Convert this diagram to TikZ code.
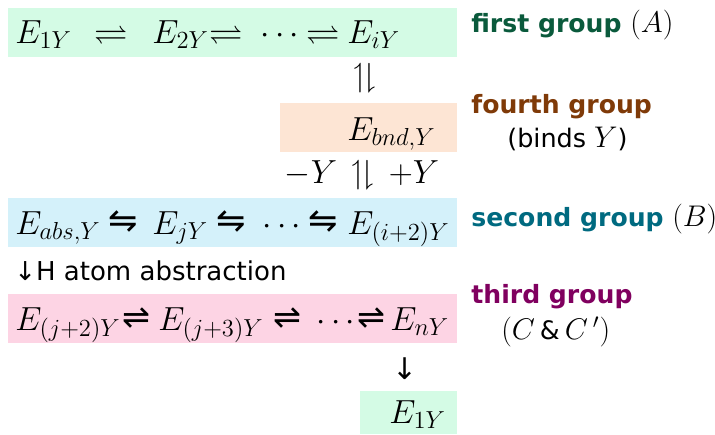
\RequirePackage{fix-cm}
\documentclass[tikz,border=0pt]{standalone}
\usepackage{amsmath,amssymb}
\usepackage{fontspec}
\setmainfont{DejaVu Sans}
\usetikzlibrary{positioning}
\DeclareMathSizes{19}{19}{14}{11}

\definecolor{grpAfill}{HTML}{D4FBE5}
\definecolor{grpBfill}{HTML}{D4F1FA}
\definecolor{grpCfill}{HTML}{FDD4E4}
\definecolor{grpDfill}{HTML}{FDE5D4}
\definecolor{grpAtext}{HTML}{0A5A3C}
\definecolor{grpBtext}{HTML}{006A80}
\definecolor{grpCtext}{HTML}{80005F}
\definecolor{grpDtext}{HTML}{7F3A08}

\begin{document}
\begin{tikzpicture}[
  x=0.02cm, y=-0.02cm,
  every node/.style={inner sep=0pt, font=\fontsize{19}{22}\selectfont},
  band/.style={fill=#1, anchor=north west, minimum height=0.97cm},
  sp/.style={anchor=base west},
  harp/.style={anchor=base west, font=\fontsize{#1}{22}\selectfont},
  grp/.style={anchor=west, text=#1, font=\fontsize{14.3}{17}\selectfont\bfseries},
  note/.style={anchor=west, font=\fontsize{14.5}{17}\selectfont},
]
\useasboundingbox (0,0) rectangle (715,434);

%% --- coloured bands ---
\node[band=grpAfill, minimum width=8.98cm] (first)  at (8,8)   {};
\node[band=grpDfill, minimum width=3.54cm] (fourth) at (280,103) {};
\node[band=grpBfill, minimum width=8.98cm] (second) at (8,198) {};
\node[band=grpCfill, minimum width=8.98cm] (third)  at (8,294) {};
\node[band=grpAfill, minimum width=1.94cm, minimum height=0.86cm] (back) at (360,391) {};

%% --- first group chain ---
\node[sp] (a1) at (15,43)  {$E_{1Y}$};
\node[sp] (a1h) at (94,43) {$\rightleftharpoons$};
\node[sp] (a2) at (152,43) {$E_{2Y}$};
\node[sp] (a2h) at (209,43) {$\rightleftharpoons$};
\node[sp] (adots) at (260,43) {$\cdots$};
\node[sp] (a3h) at (306,43) {$\rightleftharpoons$};
\node[sp] (ai) at (347,43) {$E_{iY}$};

%% --- fourth group ---
\node[sp] (bnd) at (347,140) {$E_{bnd,Y}$};

%% --- second group chain ---
\node[sp] (b1) at (15,234)  {$E_{abs,Y}$};
\node[harp=20] (b1h) at (108,232) {⇋};
\node[sp] (bj) at (152,234) {$E_{jY}$};
\node[harp=20] (b2h) at (216,232) {⇋};
\node[sp] (bdots) at (262,234) {$\cdots$};
\node[harp=20] (b3h) at (308,232) {⇋};
\node[sp] (bi) at (347,234) {$E_{(i+2)Y}$};

%% --- third group chain ---
\node[sp] (c1) at (15,330)  {$E_{(j+2)Y}$};
\node[harp=19] (c1h) at (122,328) {⇌};
\node[sp] (c2) at (158,330) {$E_{(j+3)Y}$};
\node[harp=19] (c2h) at (273,328) {⇌};
\node[sp] (cdots) at (316,330) {$\cdots$};
\node[harp=19] (c3h) at (357,328) {⇌};
\node[sp] (cn) at (390,330) {$E_{nY}$};

%% --- back to the first group ---
\node[sp] (a1again) at (389,423) {$E_{1Y}$};

%% --- steps between bands ---
\node (bindstep) at (365,78) {$\upharpoonleft\!\downharpoonright$};
\node (swapstep) at (362,175) {$-Y\,\upharpoonleft\!\downharpoonright\,{+Y}$};
\node[note, font=\fontsize{14.8}{17}\selectfont] (abstract) at (14,271) {↓H atom abstraction};
\node[font=\fontsize{17}{20}\selectfont] (closestep) at (405,369) {↓};

%% --- group labels ---
\node[grp=grpAtext] (firstlab) at (471,25) {first group {\color{black}\mdseries\fontsize{17}{20}\selectfont$(A)$}};
\node[grp=grpDtext] (fourthlab) at (471,107) {fourth group};
\node[note] (fourthsub) at (507,139) {(binds {\fontsize{17}{20}\selectfont$Y$})};
\node[grp=grpBtext] (secondlab) at (471,219) {second group {\color{black}\mdseries\fontsize{17}{20}\selectfont$(B)$}};
\node[grp=grpCtext] (thirdlab) at (471,297) {third group};
\node[note, font=\fontsize{17}{20}\selectfont] (thirdsub) at (501,332) {$(C$\,{\fontsize{14.5}{17}\selectfont\&}\,$C\,')$};

\end{tikzpicture}
\end{document}
